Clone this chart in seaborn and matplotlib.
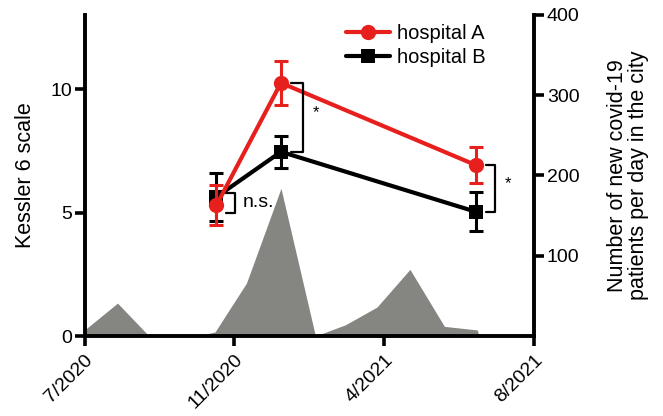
import numpy as np
import pandas as pd
import matplotlib
matplotlib.use("Agg")
import matplotlib.pyplot as plt
import seaborn as sns

# =========================================================
# Data
# =========================================================

tick_labels = ["7/2020", "11/2020", "4/2021", "8/2021"]

# survey time points (x in tick units, 0 = 7/2020)
survey_x = [0.88, 1.31, 2.61]

hospital_a = [5.30, 10.25, 6.92]
hospital_a_err = [0.81, 0.90, 0.72]

hospital_b = [5.63, 7.46, 5.03]
hospital_b_err = [0.97, 0.65, 0.79]

# significance marks between A and B at each time point
sig_labels = ["n.s.", "*", "*"]

# new covid-19 patients per day in the city
case_x = [0.0, 0.22, 0.43, 0.75, 0.87, 1.08, 1.31, 1.54, 1.74, 1.95, 2.17, 2.40, 2.62, 2.63]
cases = [7.5, 41, 0, 0, 5, 66, 184, 0, 14, 36, 83, 12, 7.5, 0]

red = "#e8201d"
gray = "#858581"

# =========================================================
# Plot
# =========================================================

sns.set_style("ticks", {"axes.edgecolor": "black", "text.color": "black",
                        "xtick.color": "black", "ytick.color": "black",
                        "axes.labelcolor": "black"})
plt.rcParams["font.family"] = ["Liberation Sans", "DejaVu Sans"]

fig = plt.figure(figsize=(6.63, 4.16), dpi=100)
ax = fig.add_axes([0.1275, 0.1923, 0.6785, 0.7717])
ax2 = ax.twinx()

# area of city cases (right axis), behind the lines
ax2.fill_between(case_x, cases, 0, color=gray, linewidth=0)
ax2.set_ylim(0, 400)
ax2.set_yticks([100, 200, 300, 400])
ax2.set_ylabel("Number of new covid-19\npatients per day in the city",
               fontsize=15.5, linespacing=1.0, labelpad=20)

ax.set_zorder(ax2.get_zorder() + 1)
ax.patch.set_visible(False)

df = pd.DataFrame({
    "x": survey_x * 2,
    "score": hospital_a + hospital_b,
    "group": ["hospital A"] * 3 + ["hospital B"] * 3,
})

sns.lineplot(data=df[df.group == "hospital A"], x="x", y="score", ax=ax,
             color=red, marker="o", markersize=11, markeredgewidth=0,
             linewidth=3, label="hospital A", zorder=4)
sns.lineplot(data=df[df.group == "hospital B"], x="x", y="score", ax=ax,
             color="black", marker="s", markersize=9.5, markeredgewidth=0,
             linewidth=3, label="hospital B", zorder=3)

ax.errorbar(survey_x, hospital_b, yerr=hospital_b_err, fmt="none",
            ecolor="black", elinewidth=2.2, capsize=5, capthick=2.2, zorder=3)
ax.errorbar(survey_x, hospital_a, yerr=hospital_a_err, fmt="none",
            ecolor=red, elinewidth=2.2, capsize=5, capthick=2.2, zorder=4)

# significance brackets
for i, lab in enumerate(sig_labels):
    top = max(hospital_a[i], hospital_b[i])
    bot = min(hospital_a[i], hospital_b[i])
    if lab == "n.s.":
        top += 0.15
        bot -= 0.3
    x0 = survey_x[i] + 0.065
    x1 = x0 + 0.06 + (0.02 if i == 1 else 0)
    ax.plot([x0, x1, x1, x0], [top, top, bot, bot], color="black",
            linewidth=1.6, zorder=5)
    if lab == "n.s.":
        ax.text(x1 + 0.05, (top + bot) / 2, lab, fontsize=14,
                va="center", ha="left")
    else:
        ax.text(x1 + 0.07, (top + bot) / 2 + 0.2, lab, fontsize=12,
                va="center", ha="left")

ax.set_xlim(0, 3)
ax.set_ylim(0, 13)
ax.set_xticks(range(len(tick_labels)))
ax.set_xticklabels(tick_labels, rotation=45, ha="right",
                   rotation_mode="anchor")
ax.set_yticks([0, 5, 10])
ax.set_xlabel("")
ax.set_ylabel("Kessler 6 scale", fontsize=15.5, labelpad=10)

for a in (ax, ax2):
    for side in a.spines:
        a.spines[side].set_linewidth(2.8)
        a.spines[side].set_color("black")
    a.tick_params(width=2.6, length=7, labelsize=14, pad=2, color="black")
ax.spines["top"].set_visible(False)
ax.spines["right"].set_visible(False)
ax2.spines["top"].set_visible(False)
ax2.spines["left"].set_visible(False)
ax2.spines["bottom"].set_visible(False)
ax.tick_params(axis="x", pad=4)

leg = ax.legend(loc="upper left", bbox_to_anchor=(0.55, 1.015), frameon=False,
                fontsize=14.5, handlelength=2.2, handletextpad=0.35,
                labelspacing=0.25, borderaxespad=0.3)

fig.savefig("out.png", dpi=100)
